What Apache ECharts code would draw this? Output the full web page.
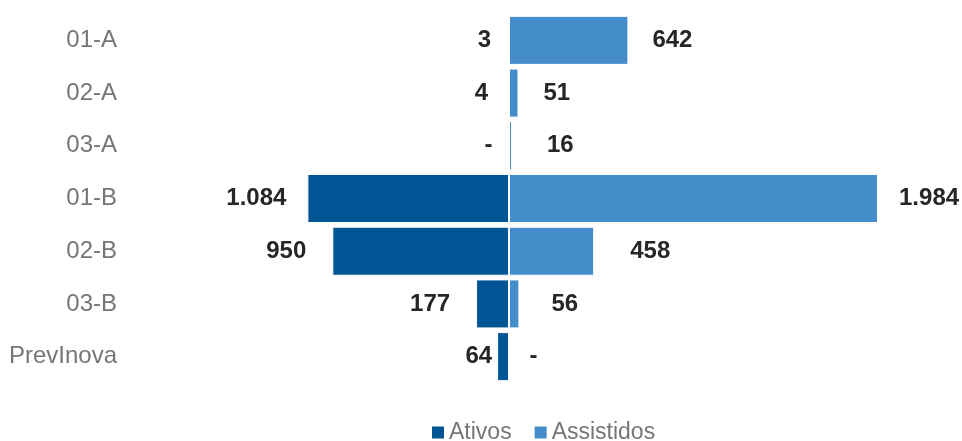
<!DOCTYPE html>
<html>
<head>
<meta charset="utf-8">
<script src="https://cdn.jsdelivr.net/npm/echarts@6/dist/echarts.min.js"></script>
<style>html,body{margin:0;padding:0;background:#fff}#c{width:962px;height:441px}</style>
</head>
<body>
<div id="c"></div>
<script>
const categories = ['01-A', '02-A', '03-A', '01-B', '02-B', '03-B', 'PrevInova'];
const ativos = [3, 4, 0, 1084, 950, 177, 64];
const assistidos = [642, 51, 16, 1984, 458, 56, 0];
const seriesNames = ['Ativos', 'Assistidos'];
// label gaps (px) between bar end and label, as placed in the reference
const ativosLabelGap = [17, 20, 16, 21, 26, 26, 5];
const assistidosLabelGap = [24, 25, 35, 21, 36, 32, 32];

function fmt(v) {
  v = Math.abs(v);
  if (v === 0) return '-';
  return String(Math.round(v)).replace(/\B(?=(\d{3})+(?!\d))/g, '.');
}

const chart = echarts.init(document.getElementById('c'), null, {renderer: 'canvas'});
const labelStyle = {
  show: true,
  fontFamily: 'Liberation Sans, Arial, sans-serif',
  fontSize: 24,
  fontWeight: 'bold',
  color: '#262626',
  formatter: p => fmt(p.value)
};
chart.setOption({
  animation: false,
  grid: {left: 137, right: 81, top: 14, bottom: 58, containLabel: false},
  xAxis: {
    type: 'value', min: -2000, max: 2000, show: false
  },
  yAxis: {
    type: 'category', data: categories, inverse: true,
    axisLine: {show: false}, axisTick: {show: false}, splitLine: {show: false},
    axisLabel: {
      margin: 20, fontFamily: 'Liberation Sans, Arial, sans-serif', fontSize: 24, color: '#767676'
    }
  },
  legend: {
    data: seriesNames, left: 432, top: 421, padding: 0,
    icon: 'rect',
    itemWidth: 12, itemHeight: 12, itemGap: 23,
    itemStyle: {borderWidth: 0},
    textStyle: {fontFamily: 'Liberation Sans, Arial, sans-serif', fontSize: 23, color: '#767676'}
  },
  series: [
    {
      name: seriesNames[0], type: 'bar', stack: 'a',
      data: ativos.map((v, i) => ({value: -v, label: {distance: ativosLabelGap[i]}})),
      barCategoryGap: '7%',
      itemStyle: {color: '#005594', borderColor: '#ffffff', borderWidth: 1},
      label: Object.assign({}, labelStyle, {position: 'left'})
    },
    {
      name: seriesNames[1], type: 'bar', stack: 'a',
      data: assistidos.map((v, i) => ({value: v, label: {distance: assistidosLabelGap[i]}})),
      barCategoryGap: '7%',
      itemStyle: {color: '#448dca', borderColor: '#ffffff', borderWidth: 1},
      label: Object.assign({}, labelStyle, {position: 'right'})
    }
  ]
});
</script>
</body>
</html>
